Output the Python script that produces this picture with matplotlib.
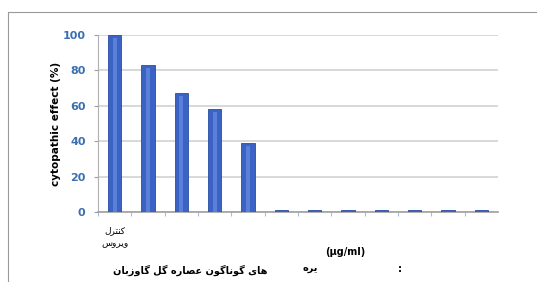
import matplotlib
matplotlib.use("Agg")
import matplotlib.pyplot as plt
from matplotlib.lines import Line2D

# data
categories = ["کنترل\nویروس", "", "", "", "", "", "", "", "", "", "", ""]
effect = [100, 83, 67, 58, 39, 1.0, 1.0, 1.0, 1.0, 1.0, 1.0, 1.0]
yticks = [0, 20, 40, 60, 80, 100]

# matplotlib does no Arabic shaping: pick presentation forms by hand
# letter: (isolated, final, initial, medial); None = does not join forward
FORMS = {
    "ا": ("\uFE8D", "\uFE8E", None, None),
    "ب": ("\uFE8F", "\uFE90", "\uFE91", "\uFE92"),
    "ت": ("\uFE95", "\uFE96", "\uFE97", "\uFE98"),
    "ر": ("\uFEAD", "\uFEAE", None, None),
    "ز": ("\uFEAF", "\uFEB0", None, None),
    "س": ("\uFEB1", "\uFEB2", "\uFEB3", "\uFEB4"),
    "ص": ("\uFEB9", "\uFEBA", "\uFEBB", "\uFEBC"),
    "ع": ("\uFEC9", "\uFECA", "\uFECB", "\uFECC"),
    "ل": ("\uFEDD", "\uFEDE", "\uFEDF", "\uFEE0"),
    "ن": ("\uFEE5", "\uFEE6", "\uFEE7", "\uFEE8"),
    "ه": ("\uFEE9", "\uFEEA", "\uFEEB", "\uFEEC"),
    "و": ("\uFEED", "\uFEEE", None, None),
    "ی": ("\uFBFC", "\uFBFD", "\uFBFE", "\uFBFF"),
    "ک": ("\uFB8E", "\uFB8F", "\uFB90", "\uFB91"),
    "گ": ("\uFB92", "\uFB93", "\uFB94", "\uFB95"),
}


def shape(word):
    out = []
    for i, ch in enumerate(word):
        if ch not in FORMS:
            out.append(ch)
            continue
        prev = word[i - 1] if i > 0 else ""
        nxt = word[i + 1] if i + 1 < len(word) else ""
        join_prev = prev in FORMS and FORMS[prev][2] is not None
        join_next = FORMS[ch][2] is not None and nxt in FORMS
        iso, fin, ini, med = FORMS[ch]
        if join_prev and join_next:
            out.append(med)
        elif join_prev:
            out.append(fin)
        elif join_next:
            out.append(ini)
        else:
            out.append(iso)
    return "".join(out)


def rtl(text):
    return "\n".join(shape(line)[::-1] for line in text.split("\n"))


plt.rcParams["font.family"] = ["DejaVu Sans"]

fig = plt.figure(figsize=(5.37, 2.82), dpi=100)
ax = fig.add_axes([0.1825, 0.248, 0.745, 0.628])

x = list(range(len(effect)))
ax.bar(x, effect, width=0.4, color="#3b63c6", edgecolor="#2a4ca3", linewidth=0.6, zorder=3)
# cylinder highlight
ax.bar(x, [max(v - 1.5, 0) for v in effect], width=0.12, color="#5a80d8",
       linewidth=0, zorder=4)

ax.set_xlim(-0.5, len(effect) - 0.5)
ax.set_ylim(0, 100)
ax.set_yticks(yticks)
ax.set_yticklabels([str(t) for t in yticks], color="#3a6fb0", fontsize=8, fontweight="bold")
ax.yaxis.grid(True, color="#d6d6d6", linewidth=1.3, zorder=0)
ax.set_axisbelow(True)

ax.set_xticks([i - 0.5 for i in range(len(effect))])
ax.set_xticklabels([])
ax.tick_params(axis="x", length=3, color="#a9bedf", direction="out")
ax.tick_params(axis="y", length=3, color="#a0a0a0", pad=6)
for s in ["top", "right"]:
    ax.spines[s].set_visible(False)
ax.spines["left"].set_color("#b0b0b0")
ax.spines["bottom"].set_color("#a0a0a0")
ax.spines["bottom"].set_linewidth(1.2)

ax.set_ylabel("cytopathic effect (%)", fontsize=7.5, fontweight="bold", labelpad=1)

# category label under first bar
ax.text(0, -8, rtl(categories[0]), ha="center", va="top", fontsize=6.5,
        linespacing=1.6, transform=ax.transData)

fig.text(0.643, 0.106, "(µg/ml)", ha="center", va="center", fontsize=7, fontweight="bold")
fig.text(0.355, 0.042, rtl("های گوناگون عصاره گل گاوزبان"), ha="center", va="center",
         fontsize=7, fontweight="bold")
fig.text(0.577, 0.05, rtl("یره"), ha="center", va="center", fontsize=7, fontweight="bold")
fig.text(0.745, 0.045, ":", ha="center", va="center", fontsize=7, fontweight="bold")

# outer frame of the chart area
fig.add_artist(Line2D([0.015, 1.0], [0.957, 0.957], transform=fig.transFigure,
                      color="#9a9a9a", linewidth=0.8))
fig.add_artist(Line2D([0.015, 0.015], [0.957, 0.0], transform=fig.transFigure,
                      color="#9a9a9a", linewidth=0.8))

fig.savefig("out.png", dpi=100)
